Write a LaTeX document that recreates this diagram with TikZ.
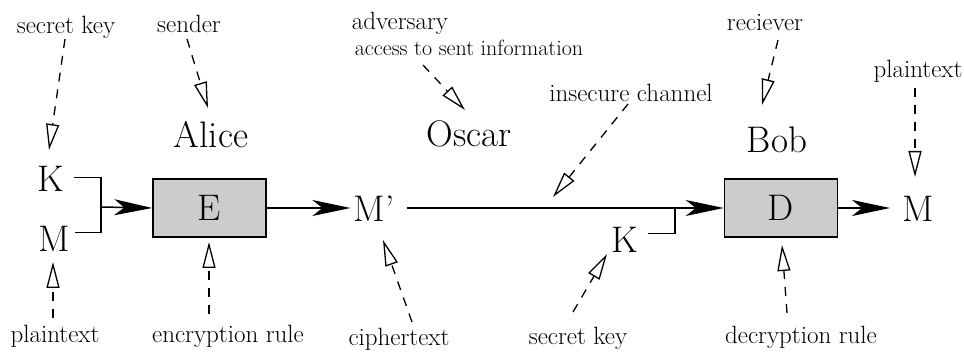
\documentclass[tikz,border=0pt]{standalone}
\usepackage{fontspec}
\usetikzlibrary{arrows.meta}
\definecolor{boxgray}{HTML}{CCCCCC}
\begin{document}
\begin{tikzpicture}[x=1pt,y=-1pt,
  small/.style={font=\rmfamily\fontsize{25}{30}\selectfont, inner sep=2pt, anchor=base},
  tiny/.style={font=\rmfamily\fontsize{22}{26}\selectfont, inner sep=2pt, anchor=base},
  big/.style={font=\rmfamily\fontsize{37}{44}\selectfont, inner sep=3pt, anchor=base},
  cipherbox/.style={draw, line width=1.5pt, fill=boxgray, minimum width=113pt,
    minimum height=58pt, anchor=center, inner sep=0pt},
  flow/.style={line width=1.5pt, -{Stealth[length=38pt,width=16pt,inset=10pt]}},
  wire/.style={line width=1.5pt},
  hint/.style={line width=1.3pt, dash pattern=on 9pt off 8pt,
    -{Triangle[open,length=26pt,width=13pt]}}
]
\useasboundingbox (0,0) rectangle (964,352);

% parties and messages
\node[big] (K1) at (51,192) {K};
\node[big] (M1) at (54,252) {M};
\node[big] (alice) at (211,148) {Alice};
\node[big] (oscar) at (469,147) {Oscar};
\node[big] (bob) at (777,153) {Bob};
\node[big] (Mp) at (374,222) {M’};
\node[big] (K2) at (625,253) {K};
\node[big] (M2) at (918,222) {M};

% encryption and decryption blocks
\node[big, cipherbox] (E) at (209.5,208) {E};
\node[big, cipherbox] (D) at (781,208) {D};

% annotations
\node[small] (skA) at (66,34) {secret key};
\node[small] (snd) at (189,33) {sender};
\node[small] (ptA) at (55,343) {plaintext};
\node[small] (enc) at (228,343) {encryption rule};
\node[small] (adv) at (400,30) {adversary};
\node[tiny]  (acc) at (469,56) {access to sent information};
\node[small] (ins) at (631,102) {insecure channel};
\node[small] (ctx) at (399,346) {ciphertext};
\node[small] (skB) at (578,345) {secret key};
\node[small] (rcv) at (765,31) {reciever};
\node[small] (ptB) at (918,78) {plaintext};
\node[small] (dec) at (801,344) {decryption rule};

% junction points
\coordinate (jn) at (101,207);
\coordinate (jk) at (675,207);

% main data flow
\draw[wire] ([xshift=6pt,yshift=2pt]K1.east) -| (jn) |- ([xshift=2pt,yshift=7pt]M1.east);
\draw[flow] (jn) -- (E.west);
\draw[flow] (E.east) -- (E.east -| Mp.west);
\draw[flow, shorten <=9pt] (Mp.east |- E.east) -- (D.west);
\draw[wire] ([xshift=6pt,yshift=7pt]K2.east) -| (jk);
\draw[flow, shorten >=9pt] (D.east) -- (D.east -| M2.west);

% dashed pointers
\coordinate (t1) at (65,39);   \coordinate (h1) at (49,150);
\coordinate (t2) at (187,39);  \coordinate (h2) at (208,108);
\coordinate (t3) at (53,318);  \coordinate (h3) at (53,262);
\coordinate (t4) at (209,314); \coordinate (h4) at (209,242);
\coordinate (t5) at (423,65);  \coordinate (h5) at (465,110);
\coordinate (t6) at (628,104); \coordinate (h6) at (553,197);
\coordinate (t7) at (412,322); \coordinate (h7) at (383,240);
\coordinate (t8) at (573,312); \coordinate (h8) at (607,254);
\coordinate (t9) at (778,40);  \coordinate (h9) at (762,105);
\coordinate (t10) at (915,88); \coordinate (h10) at (915,177);
\coordinate (t11) at (787,313); \coordinate (h11) at (782,245);
\foreach \i in {1,...,11} {\draw[hint] (t\i) -- (h\i);}
\end{tikzpicture}
\end{document}
